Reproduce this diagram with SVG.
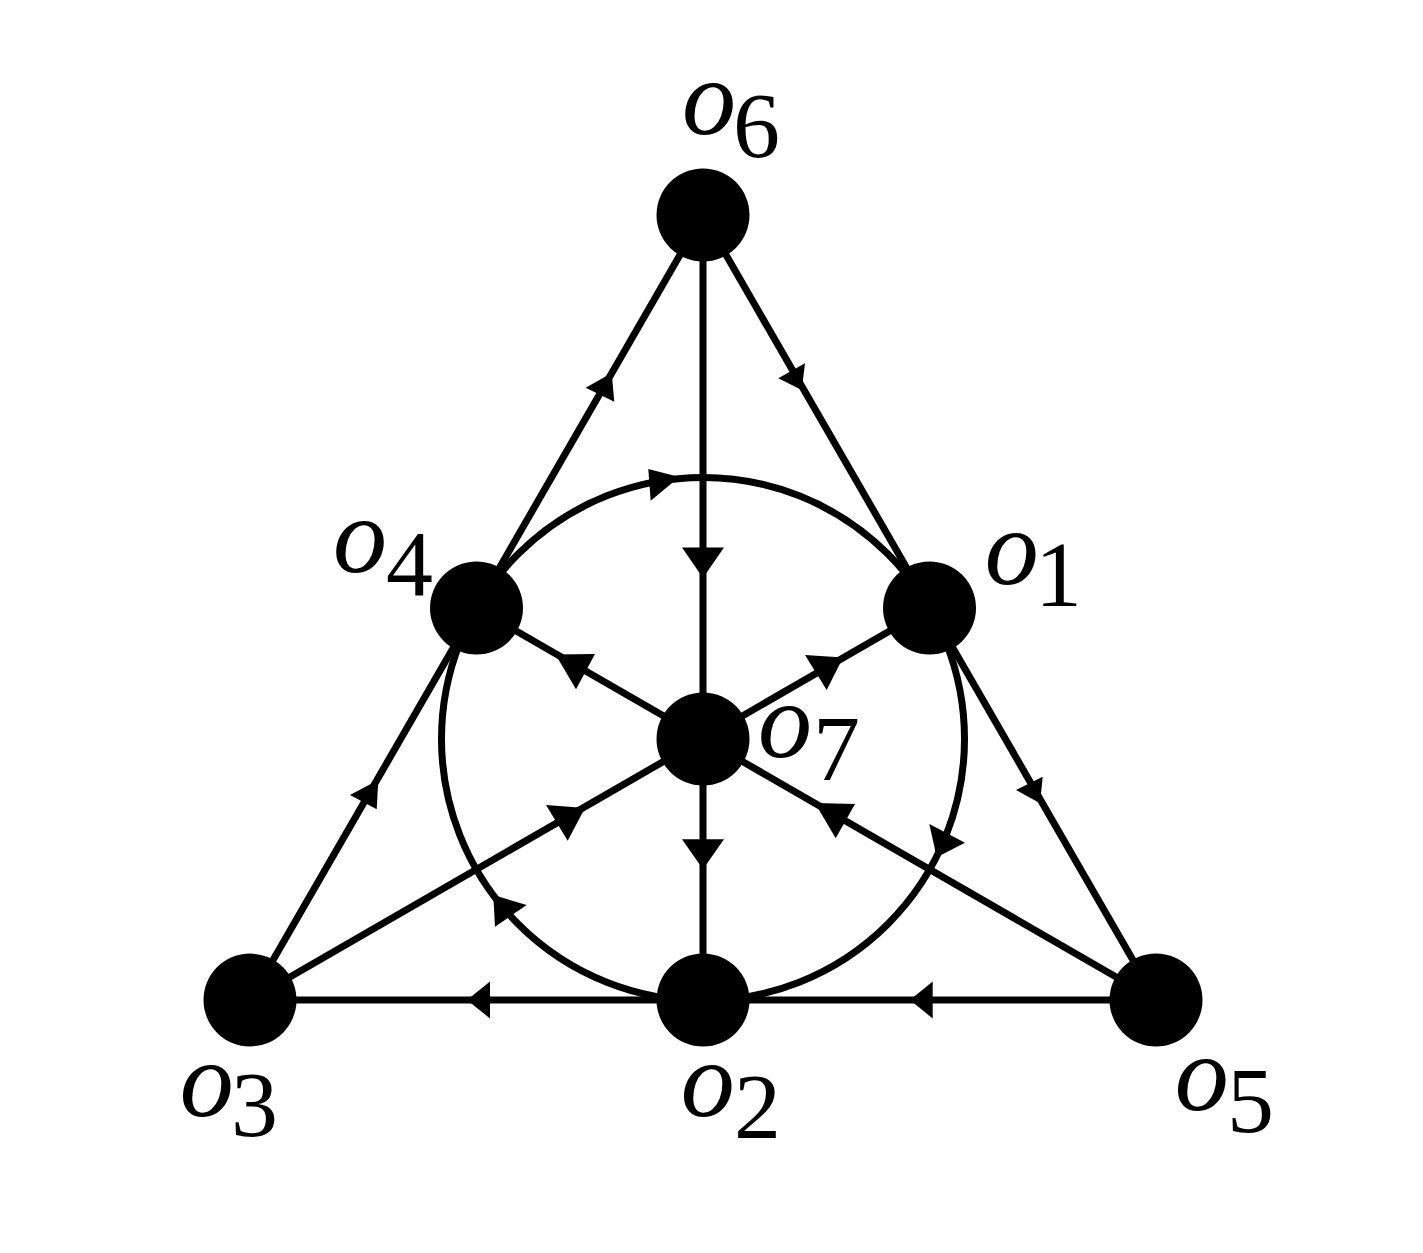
<svg xmlns="http://www.w3.org/2000/svg" width="1423" height="1253" viewBox="0 0 1423 1253">
<style>
.edge{stroke:#000;stroke-width:7;fill:none}
.head{fill:#000;stroke:none}
.node{fill:#000}
.lbl{font-family:"Liberation Serif","Times New Roman",serif;fill:#000}
.v{font-style:italic;font-size:108px}
.s{font-size:94px}
</style>
<rect width="1423" height="1253" fill="#fff"/>
<g id="connectors">
  <line class="edge" x1="703" y1="215" x2="250" y2="1000"/>
  <line class="edge" x1="703" y1="215" x2="1156" y2="1000"/>
  <line class="edge" x1="250" y1="1000" x2="1156" y2="1000"/>
  <line class="edge" x1="703" y1="215" x2="703" y2="1000"/>
  <line class="edge" x1="476.5" y1="608" x2="1156" y2="1000"/>
  <line class="edge" x1="929.5" y1="608" x2="250" y2="1000"/>
  <circle class="edge" cx="703" cy="739" r="261.5"/>
  <polygon class="head" points="611.7,373 585.7,387.7 614.3,401.7"/>
  <polygon class="head" points="801.7,390 778.3,378.3 805,363.3"/>
  <polygon class="head" points="378.3,780 350,795 376.7,809.3"/>
  <polygon class="head" points="1040,803.3 1016,790 1042.7,776.7"/>
  <polygon class="head" points="910,1000 932.7,981.5 932.7,1018.5"/>
  <polygon class="head" points="467,1000 490,981.5 490,1018.5"/>
  <polygon class="head" points="703,578 682,547.5 724,547.5"/>
  <polygon class="head" points="703,869.3 682,839.3 724,839.3"/>
  <polygon class="head" points="555.5,654.5 595,654 576,689.3"/>
  <polygon class="head" points="843,657.5 805,655 826.7,690"/>
  <polygon class="head" points="585,808 546,805 567.7,840.7"/>
  <polygon class="head" points="815,803 855,804 835.7,838.3"/>
  <polygon class="head" points="679.3,477 648.3,469 650.7,500.7"/>
  <polygon class="head" points="493.3,895 526.7,905 495,926.7"/>
  <polygon class="head" points="936.7,857.3 929.3,824 965,842.7"/>
</g>
<g id="o6"><circle class="node" cx="703" cy="215" r="46.5"/><text class="lbl"><tspan class="v" x="682" y="134">o</tspan><tspan class="s" x="733" y="157">6</tspan></text></g>
<g id="o4"><circle class="node" cx="476.5" cy="608" r="46.5"/><text class="lbl"><tspan class="v" x="333" y="572">o</tspan><tspan class="s" x="386" y="595">4</tspan></text></g>
<g id="o1"><circle class="node" cx="929.5" cy="608" r="46.5"/><text class="lbl"><tspan class="v" x="984.7" y="584">o</tspan><tspan class="s" x="1035" y="606">1</tspan></text></g>
<g id="o7"><circle class="node" cx="703" cy="739" r="46.5"/><text class="lbl"><tspan class="v" x="758" y="757">o</tspan><tspan class="s" x="813" y="780">7</tspan></text></g>
<g id="o3"><circle class="node" cx="250" cy="1000" r="46.5"/><text class="lbl"><tspan class="v" x="179.7" y="1116">o</tspan><tspan class="s" x="231" y="1136">3</tspan></text></g>
<g id="o2"><circle class="node" cx="703" cy="1000" r="46.5"/><text class="lbl"><tspan class="v" x="680.7" y="1116">o</tspan><tspan class="s" x="734" y="1138">2</tspan></text></g>
<g id="o5"><circle class="node" cx="1156" cy="1000" r="46.5"/><text class="lbl"><tspan class="v" x="1174.7" y="1110">o</tspan><tspan class="s" x="1227" y="1131.5">5</tspan></text></g>
</svg>
